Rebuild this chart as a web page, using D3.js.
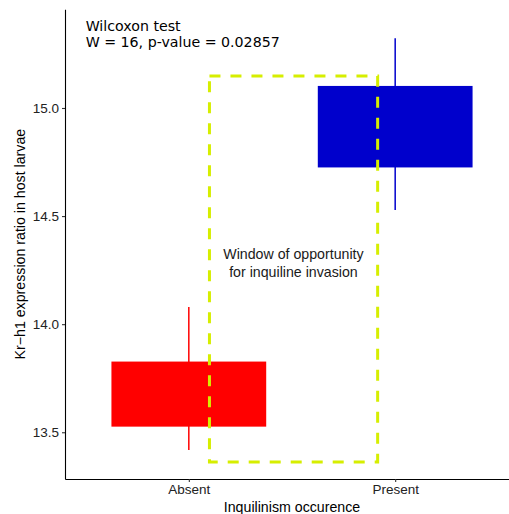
<!DOCTYPE html>
<html>
<head>
<meta charset="utf-8">
<script src="https://cdn.jsdelivr.net/npm/d3@7"></script>
<style>
  body { margin: 0; background: #fff; }
  svg { display: block; }
</style>
</head>
<body>
<div id="chart"></div>
<script>
// values
const groups = ["Absent", "Present"];
const boxLow = [13.526, 14.725];
const boxHigh = [13.827, 15.102];
const whiskLow = [13.418, 14.528];
const whiskHigh = [14.079, 15.323];
const groupColors = ["#ff0000", "#0000cc"];
const yTicks = [13.5, 14.0, 14.5, 15.0];

// dashed "window" rectangle, in data units (x as group position)
const windowX = [1.1, 1.915];
const windowY = [13.363, 15.148];

const statLines = ["Wilcoxon test", "W = 16, p-value = 0.02857"];
const windowLines = ["Window of opportunity", "for inquiline invasion"];

const width = 509, height = 514;
const margins = {left: 65, right: -10, top: 9.3, bottom: 35};

const svg = d3.select("#chart").append("svg")
    .attr("width", width)
    .attr("height", height);

// discrete positions 1..n, expanded by 0.6 like ggplot
const x = d3.scaleLinear()
    .domain([0.4, groups.length + 0.6])
    .range([margins.left, width - margins.right]);
const y = d3.scaleLinear()
    .domain([13.2838, 15.4565])
    .range([height - margins.bottom, margins.top]);

const boxWidth = 0.75;
const data = groups.map((g, i) => ({
    name: g, pos: i + 1,
    lo: boxLow[i], hi: boxHigh[i],
    wlo: whiskLow[i], whi: whiskHigh[i],
    color: groupColors[i]
}));

// boxes
svg.selectAll(".box")
    .data(data)
    .enter().append("rect")
    .attr("class", "box")
    .attr("x", d => x(d.pos - boxWidth / 2))
    .attr("width", d => x(d.pos + boxWidth / 2) - x(d.pos - boxWidth / 2))
    .attr("y", d => y(d.hi))
    .attr("height", d => y(d.lo) - y(d.hi))
    .style("fill", d => d.color);

// whiskers
svg.selectAll(".whisk")
    .data(data)
    .enter().append("line")
    .attr("class", "whisk")
    .attr("x1", d => x(d.pos)).attr("x2", d => x(d.pos))
    .attr("y1", d => y(d.whi)).attr("y2", d => y(d.wlo))
    .style("stroke", d => d.color)
    .style("stroke-width", 1.5);

// dashed window
svg.append("rect")
    .attr("x", x(windowX[0]))
    .attr("y", y(windowY[1]))
    .attr("width", x(windowX[1]) - x(windowX[0]))
    .attr("height", y(windowY[0]) - y(windowY[1]))
    .style("fill", "none")
    .style("stroke", "#d6ee00")
    .style("stroke-width", 3)
    .style("stroke-dasharray", "11,10");

// axes
const yAxis = svg.append("g")
    .attr("transform", "translate(" + margins.left + ",0)")
    .call(d3.axisLeft(y).tickValues(yTicks).tickFormat(d3.format(".1f"))
        .tickSizeInner(3).tickSizeOuter(0).tickPadding(3));
const xAxis = svg.append("g")
    .attr("transform", "translate(0," + (height - margins.bottom) + ")")
    .call(d3.axisBottom(x).tickValues(data.map(d => d.pos)).tickFormat((d, i) => groups[i])
        .tickSizeInner(3).tickSizeOuter(0).tickPadding(2));

[yAxis, xAxis].forEach(a => {
    a.select(".domain").attr("stroke", "#000").attr("stroke-width", 1.1);
    a.selectAll(".tick line").attr("stroke", "#333").attr("stroke-width", 1.1);
    a.selectAll(".tick text")
        .attr("fill", "#222")
        .style("font-family", "'Liberation Sans', Arial, sans-serif")
        .style("font-size", "13.5px");
});

// axis titles
svg.append("text")
    .attr("x", x(1.5)).attr("y", 511.5)
    .attr("text-anchor", "middle")
    .style("font-family", "'Liberation Sans', Arial, sans-serif")
    .style("font-size", "14.2px")
    .text("Inquilinism occurence");
svg.append("text")
    .attr("transform", "translate(24.5," + ((y.range()[0] + y.range()[1]) / 2) + ") rotate(-90)")
    .attr("text-anchor", "middle")
    .style("font-family", "'Liberation Sans', Arial, sans-serif")
    .style("font-size", "14.2px")
    .text("Kr\u2212h1 expression ratio in host larvae");

// test result
svg.append("g").selectAll("text")
    .data(statLines)
    .enter().append("text")
    .attr("x", x(0.5))
    .attr("y", (d, i) => y(15.357) + i * 16.5)
    .style("font-family", "'DejaVu Sans', sans-serif")
    .style("font-size", "14.2px")
    .style("fill", "#000")
    .text(d => d);

// window label
svg.append("g").selectAll("text")
    .data(windowLines)
    .enter().append("text")
    .attr("x", x(1.507))
    .attr("y", (d, i) => y(14.30) + i * 18)
    .attr("text-anchor", "middle")
    .style("font-family", "'Liberation Sans', Arial, sans-serif")
    .style("font-size", "14.2px")
    .style("fill", "#1a1a1a")
    .text(d => d);
</script>
</body>
</html>
